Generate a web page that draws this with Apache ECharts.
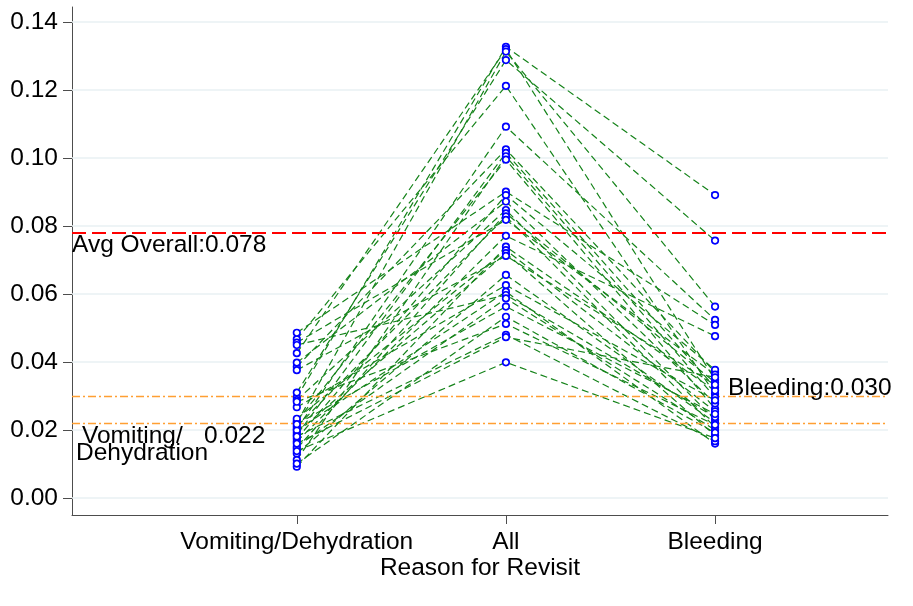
<!DOCTYPE html>
<html>
<head>
<meta charset="utf-8">
<script src="https://cdn.jsdelivr.net/npm/echarts@6/dist/echarts.min.js"></script>
<style>html,body{margin:0;padding:0;background:#fff;}#c{width:913px;height:606px;}</style>
</head>
<body>
<div id="c"></div>
<script>
const categories = ['Vomiting/Dehydration', 'All', 'Bleeding'];
const categoryPos = [1, 2, 3];
// one entry per hospital: rate for each reason
const vomiting = [0.0296,0.0426,0.0221,0.0310,0.0467,0.0203,0.0386,0.0185,0.0112,0.0226,0.0486,0.0174,0.0398,0.0288,0.0145,0.0210,0.0457,0.0166,0.0092,0.0233,0.0192,0.0376,0.0131,0.0267,0.0199,0.0450,0.0151,0.0217,0.0101,0.0283,0.0181,0.0160,0.0138];
const allReasons = [0.1327,0.1320,0.1313,0.1288,0.1212,0.1092,0.1025,0.1015,0.1005,0.0995,0.0901,0.0891,0.0872,0.0847,0.0837,0.0828,0.0818,0.0771,0.0739,0.0729,0.0720,0.0712,0.0656,0.0626,0.0607,0.0597,0.0587,0.0563,0.0533,0.0512,0.0480,0.0473,0.0399];
const bleeding = [0.0891,0.0348,0.0563,0.0757,0.0306,0.0524,0.0370,0.0325,0.0296,0.0262,0.0509,0.0377,0.0278,0.0230,0.0340,0.0208,0.0363,0.0476,0.0316,0.0255,0.0184,0.0333,0.0222,0.0287,0.0160,0.0238,0.0200,0.0247,0.0192,0.0215,0.0167,0.0355,0.0176];
const yTicks = [0, 0.02, 0.04, 0.06, 0.08, 0.10, 0.12, 0.14];
const avgOverall = 0.078;
const avgBleeding = 0.030;
const avgVomiting = 0.022;

const FONT = 'Liberation Sans, Arial, sans-serif';
const FS = 24.5;
const chart = echarts.init(document.getElementById('c'), null, {renderer: 'canvas'});

const series = [];
// gridlines
series.push({
  type: 'line', data: [], silent: true,
  markLine: {
    silent: true, z: 1, precision: 6, symbol: ['none', 'none'], label: {show: false}, animation: false,
    lineStyle: {color: '#e9f0f3', width: 1.5, type: 'solid'},
    data: yTicks.map(v => ({yAxis: v}))
  }
});
// hospital lines
for (let i = 0; i < allReasons.length; i++) {
  series.push({
    type: 'line', silent: true, z: 2, symbol: 'none',
    lineStyle: {color: '#15831a', width: 1.2, type: [7, 4]},
    data: [[categoryPos[0], vomiting[i]], [categoryPos[1], allReasons[i]], [categoryPos[2], bleeding[i]]]
  });
}
// reference lines
function refLine(v, color, width, dash) {
  return {
    type: 'line', data: [], silent: true,
    markLine: {
      silent: true, z: 3, precision: 6, symbol: ['none', 'none'], label: {show: false}, animation: false,
      emphasis: {disabled: true},
      lineStyle: {color: color, width: width, type: dash, opacity: 1},
      data: [{yAxis: v}]
    }
  };
}
series.push(refLine(avgOverall, '#ff0000', 2, [14, 6]));
series.push(refLine(avgBleeding, '#ff9f33', 1.3, [8, 3, 2, 3]));
series.push(refLine(avgVomiting, '#ff9f33', 1.3, [8, 3, 2, 3]));
// markers
const pts = [];
for (let i = 0; i < allReasons.length; i++) {
  pts.push([categoryPos[0], vomiting[i]]);
  pts.push([categoryPos[1], allReasons[i]]);
  pts.push([categoryPos[2], bleeding[i]]);
}
series.push({
  type: 'scatter', z: 5, silent: true, symbol: 'circle', symbolSize: 6.5,
  itemStyle: {color: '#ffffff', borderColor: '#0000ff', borderWidth: 1.7, opacity: 1},
  data: pts
});

chart.setOption({
  animation: false,
  backgroundColor: '#ffffff',
  grid: {left: 72, right: 25, top: 7, bottom: 91, containLabel: false},
  xAxis: {
    type: 'value', min: -0.075, max: 3.827,
    name: 'Reason for Revisit', nameLocation: 'middle', nameGap: 41, nameMoveOverlap: false,
    nameTextStyle: {fontFamily: FONT, fontSize: FS, color: '#000'},
    axisLine: {show: true, onZero: false, lineStyle: {color: '#4d4d4d', width: 1}},
    axisTick: {show: true, inside: false, length: 9, customValues: categoryPos, lineStyle: {color: '#4d4d4d'}},
    axisLabel: {customValues: categoryPos, margin: 15, fontFamily: FONT, fontSize: FS, color: '#000',
      formatter: v => categories[categoryPos.indexOf(Math.round(v))] || ''},
    splitLine: {show: false}
  },
  yAxis: {
    type: 'value', min: -0.005, max: 0.1444,
    axisLine: {show: true, onZero: false, lineStyle: {color: '#4d4d4d', width: 1}},
    axisTick: {show: true, inside: false, length: 9, customValues: yTicks, lineStyle: {color: '#4d4d4d'}},
    axisLabel: {customValues: yTicks, margin: 14, fontFamily: FONT, fontSize: FS, color: '#000',
      formatter: v => v.toFixed(2)},
    splitLine: {show: false}
  },
  series: series
});

const yAvg = chart.convertToPixel({gridIndex: 0}, [0, avgOverall])[1];
const yBl = chart.convertToPixel({gridIndex: 0}, [0, avgBleeding])[1];
const yVo = chart.convertToPixel({gridIndex: 0}, [0, avgVomiting])[1];
const xBl = chart.convertToPixel({gridIndex: 0}, [categoryPos[2], 0])[0];
const ts = (t, x, y) => ({type: 'text', x: x, y: y, silent: true, z: 10,
  style: {text: t, fontFamily: FONT, fontSize: FS, fill: '#000', verticalAlign: 'middle', align: 'left'}});
chart.setOption({
  graphic: [
    ts('Avg Overall:' + avgOverall.toFixed(3), 72, yAvg + 12),
    ts('Bleeding:' + avgBleeding.toFixed(3), xBl + 13, yBl - 8),
    ts('Vomiting/', 82, yVo + 13),
    ts(avgVomiting.toFixed(3), 204, yVo + 13),
    ts('Dehydration', 76, yVo + 30)
  ]
});
</script>
</body>
</html>
